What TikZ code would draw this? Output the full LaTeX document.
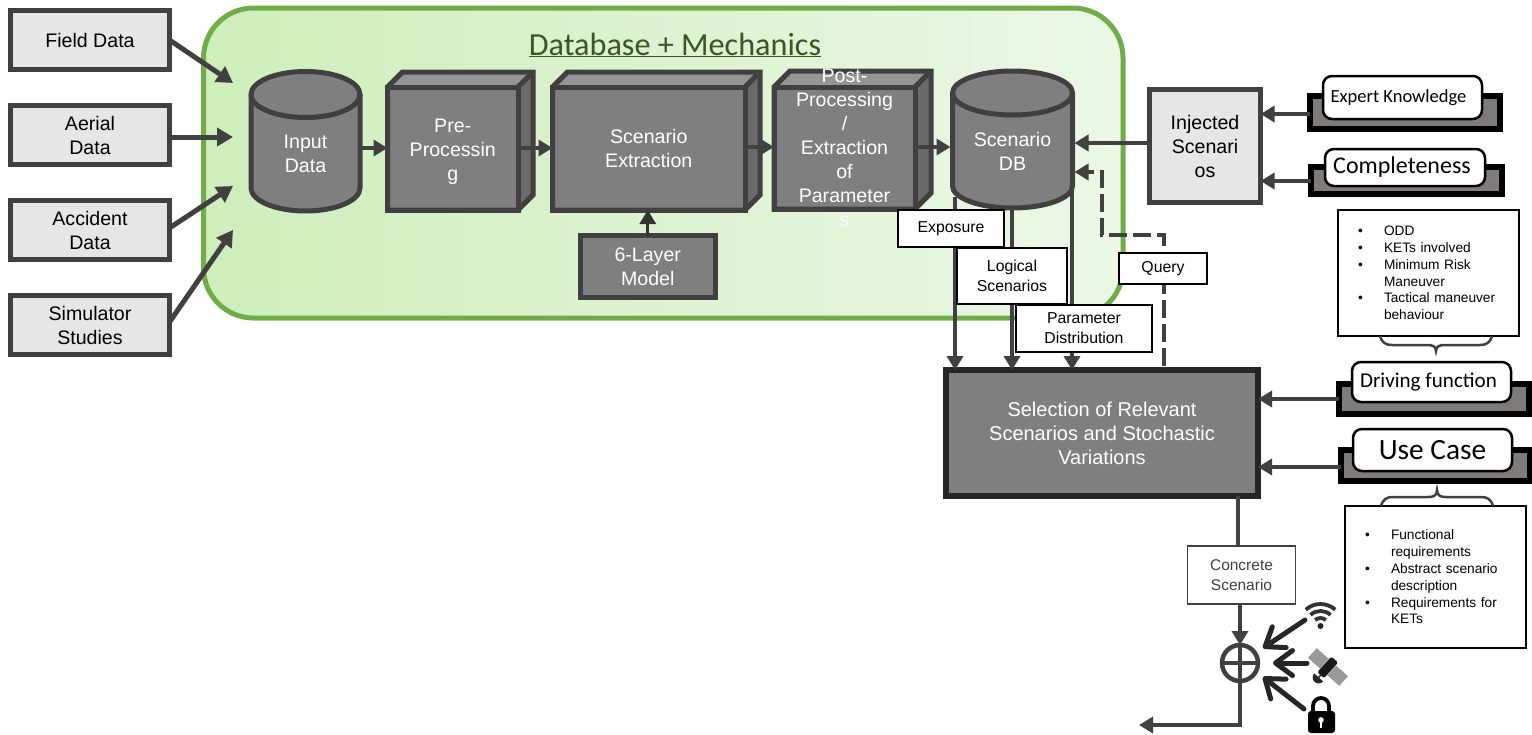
\documentclass[tikz,border=0pt]{standalone}
\usepackage{fontspec}
\setmainfont{Liberation Sans}
\newfontfamily\calfont{Carlito}
\usetikzlibrary{arrows.meta,calc}
\definecolor{dk}{HTML}{404040}
\definecolor{mid}{HTML}{7F7F7F}
\definecolor{lite}{HTML}{E6E6E6}
\definecolor{rib}{HTML}{7F7B7B}
\definecolor{topf}{HTML}{949494}
\definecolor{sidef}{HTML}{6A6A6A}
\newcommand{\fs}[2]{\fontsize{#1}{#2}\selectfont}
\newcommand{\itm}[1]{\makebox[26pt][l]{•}#1}
\newcommand{\cont}[1]{\makebox[26pt][l]{}#1}
% cube: name, left, top, right, bottom, depth, yshift, text
\newcommand{\cubebox}[8]{%
  \node[cubeface,minimum width=#4pt-#2pt,minimum height=#5pt-#3pt] (#1) at ({(#2+#4)/2},{(#3+#5)/2}) {};
  \fill[topf] (#1.north west) -- ++(#6pt,#6pt) -- ++(#4pt-#2pt,0pt) -- (#1.north east) -- cycle;
  \fill[sidef] (#1.north east) -- ++(#6pt,#6pt) -- ++(0pt,-#5pt+#3pt) -- (#1.south east) -- cycle;
  \draw[cubeedge] (#1.north west) -- ++(#6pt,#6pt) -- ++(#4pt-#2pt,0pt) -- ++(0pt,-#5pt+#3pt) -- (#1.south east) -- (#1.south west) -- cycle;
  \draw[cubeedge] (#1.north east) -- ++(#6pt,#6pt);
  \draw[cubeedge] (#1.north west) rectangle (#1.south east);
  \node[lighttext] at ($(#1.center)+(0,#7)$) {#8};
}
% cylinder: name, left, right, ytop(centre of top ellipse), ybot(centre of lower arc), ry, yshift, text
\newcommand{\cylbox}[8]{%
  \draw[line width=5pt,draw=dk,fill=mid] (#2,#4) arc[start angle=180,end angle=0,x radius=#3pt/2-#2pt/2,y radius=#6pt]
     -- (#3,#5) arc[start angle=0,end angle=-180,x radius=#3pt/2-#2pt/2,y radius=#6pt] -- cycle;
  \draw[line width=5pt,draw=dk] (#2,#4) arc[start angle=180,end angle=360,x radius=#3pt/2-#2pt/2,y radius=#6pt];
  \node[minimum width=#3pt-#2pt,minimum height=#5pt-#4pt+2*#6pt,inner sep=0pt,outer sep=0pt] (#1) at ({(#2+#3)/2},{(#4+#5)/2}) {};
  \node[lighttext] at ($(#1.center)+(0,#7)$) {#8};
}
% ribbon: name, l,t,r,b
\newcommand{\ribbonbox}[5]{%
  \node[ribbonshape,minimum width=#4pt-#2pt,minimum height=#5pt-#3pt] (#1) at ({(#2+#4)/2},{(#3+#5)/2}) {};
}
% bubble: name, l,t,r,b, size, text
\newcommand{\bubblebox}[7]{%
  \node[bubbleshape,minimum width=#4pt-#2pt,minimum height=#5pt-#3pt] (#1) at ({(#2+#4)/2},{(#3+#5)/2}) {\calfont\fs{#6}{#6}#7};
}
\tikzset{
  source/.style={draw=dk,line width=5pt,fill=lite,align=center,inner sep=0pt,outer sep=0pt,font=\fs{19.6}{24}},
  lighttext/.style={text=white,align=center,font=\fs{19.6}{24}},
  cubeface/.style={draw=dk,line width=5pt,fill=mid,inner sep=0pt,outer sep=0pt},
  cubeedge/.style={draw=dk,line width=5pt,line join=miter},
  label/.style={draw=black,line width=2.3pt,fill=white,align=center,inner sep=0pt,outer sep=0pt,font=\fs{15.8}{20}},
  ribbonshape/.style={draw=black,line width=5.5pt,fill=rib,inner sep=0pt,outer sep=0pt},
  bubbleshape/.style={draw=black,line width=2.5pt,fill=white,rounded corners=9pt,inner sep=0pt,outer sep=0pt,align=center},
  listbox/.style={draw=black,line width=1.6pt,fill=white,align=left,inner ysep=0pt,inner xsep=20pt,outer sep=0pt,font=\fs{13.7}{16.8}},
  flow/.style={draw=dk,line width=4.5pt,-{Triangle[length=14pt,width=16pt]}},
  bigflow/.style={draw=dk,line width=5pt,-{Triangle[length=16pt,width=18pt]}},
  plain/.style={draw=dk,line width=4.5pt},
  openarrow/.style={draw=black!85,line width=5pt,line cap=round,-{Straight Barb[length=17pt,width=25pt,line width=5pt,round]}},
  bracket/.style={draw=dk,line width=2.5pt},
}
\begin{document}
\begin{tikzpicture}[x=1pt,y=-1pt]
\useasboundingbox (0,0) rectangle (1532,734);
\fill[white] (0,0) rectangle (1532,734);

% database frame
\node[draw={rgb,255:red,112;green,173;blue,71},line width=5pt,left color={rgb,255:red,206;green,238;blue,187},right color={rgb,255:red,236;green,247;blue,231},
  rounded corners=50pt,minimum width=919.5pt,minimum height=310pt,inner sep=0pt,outer sep=0pt] (frame) at (663.25,163) {};
\node[text={rgb,255:red,56;green,87;blue,35}] (title) at (675,45) {\calfont\fs{32.2}{36}\underline{Database + Mechanics}};

% source boxes
\node[source,minimum width=159pt,minimum height=59pt] (field) at (90,40) {Field Data};
\node[source,minimum width=159pt,minimum height=59pt] (aerial) at (90,135) {Aerial\\Data};
\node[source,minimum width=159pt,minimum height=59pt] (accident) at (90,230) {Accident\\Data};
\node[source,minimum width=159pt,minimum height=59pt] (simulator) at (90,325) {Simulator\\Studies};

% blocks
\cylbox{input}{251}{360}{94.5}{188}{23}{13}{Input\\Data}
\cubebox{pre}{387.5}{87}{518}{210}{15}{3}{Pre-\\Processin\\g}
\cubebox{extract}{552.5}{87}{745}{210}{15}{0}{Scenario\\Extraction}
\cubebox{post}{774}{87}{915}{209}{16}{0}{Post-\\Processing\\/\\Extraction\\of\\Parameter\\s}
\cylbox{scen}{952.5}{1072.5}{93}{186}{22}{12}{Scenario\\DB}
\node[cubeface,minimum width=134.5pt,minimum height=62pt,text=white,align=center,font=\fs{19.6}{24}] (layer) at (647.75,266.5) {6-Layer\\Model};

\node[source,minimum width=111pt,minimum height=113pt] (inject) at (1205,146) {Injected\\Scenari\\os};

% source arrows
\coordinate (fieldEnd) at (233,83);
\coordinate (aerialEnd) at (233,137);
\coordinate (accEnd) at (233,186);
\coordinate (simEnd) at (233,230);
\coordinate (fieldOut) at (172,40);
\coordinate (aerialOut) at (172,137);
\coordinate (accOut) at (172,228);
\coordinate (simOut) at (172,322);
\draw[bigflow] (field.east |- fieldOut) -- (fieldEnd);
\draw[bigflow] (aerial.east |- aerialOut) -- (aerialEnd);
\draw[bigflow] (accident.east |- accOut) -- (accEnd);
\draw[bigflow] (simulator.east |- simOut) -- (simEnd);

% chain
\coordinate (ym) at (0,148);
\coordinate (ym2) at (0,147);
\draw[flow] (input.east |- ym) -- (pre.west |- ym);
\draw[flow] (pre.east |- ym) -- (extract.west |- ym);
\draw[flow] (extract.east |- ym2) -- (post.west |- ym2);
\draw[flow] (post.east |- ym2) -- ([xshift=-2pt]scen.west |- ym2);
\draw[draw=black!80,line width=3pt,-{Triangle[length=14pt,width=16pt]}] (layer.north) -- (extract.south -| layer.north);

% selection
\node[draw={rgb,255:red,38;green,38;blue,38},line width=5.5pt,fill=mid,minimum width=312pt,minimum height=126pt,inner sep=0pt,outer sep=0pt,text=white,align=center,font=\fs{20}{24}] (select) at (1102,433) {Selection of Relevant\\Scenarios and Stochastic\\Variations};

% from DB to selection
\coordinate (a1) at (955,197);
\coordinate (a2) at (1012,210);
\coordinate (a3) at (1072,190);
\draw[flow] (a1) -- (a1 |- select.north);
\draw[flow] (a2) -- (a2 |- select.north);
\draw[flow] (a3) -- (a3 |- select.north);

% injected to DB, query feedback
\draw[flow] (inject.west |- 0,143) -- ([xshift=2pt]scen.east |- 0,143);
\coordinate (q0) at (1164,366);
\coordinate (q1) at (1164,235);
\coordinate (q2) at (1102,235);
\coordinate (q3) at (1102,172);
\draw[draw=dk,line width=4.5pt,dash pattern=on 18pt off 6pt,line join=miter] (q0) -- (q1) -- (q2) -- (q3) -- ([xshift=14pt]scen.east |- q3);
\draw[draw=dk,line width=4.5pt,-{Triangle[length=14pt,width=16pt]}] ([xshift=16pt]scen.east |- q3) -- ([xshift=2pt]scen.east |- q3);

% labels
\node[label,minimum width=106pt,minimum height=37pt] (exposure) at (951,228.5) {Exposure};
\node[label,minimum width=110pt,minimum height=56pt] (logical) at (1012,276) {Logical\\Scenarios};
\node[label,minimum width=136pt,minimum height=47pt] (param) at (1084,328.5) {Parameter\\Distribution};
\node[label,minimum width=88pt,minimum height=31pt] (query) at (1163,268.5) {Query};

% ribbons
\ribbonbox{expertR}{1310}{96}{1500}{129}
\bubblebox{expert}{1323}{76}{1482}{119}{18.5}{\hspace*{-8pt}Expert Knowledge}
\ribbonbox{compR}{1311}{167}{1502}{194}
\bubblebox{comp}{1325}{149}{1485}{186}{24}{\hspace*{-6pt}Completeness}
\ribbonbox{driveR}{1339}{384}{1529}{414}
\bubblebox{drive}{1352}{362}{1511}{402}{21.1}{\hspace*{-6pt}Driving function}
\ribbonbox{useR}{1341}{450}{1530}{481}
\bubblebox{use}{1353}{429}{1512}{471}{29.4}{Use Case}

\draw[flow] (expertR.west |- 0,114) -- (inject.east |- 0,114);
\draw[flow] (compR.west |- 0,181) -- (inject.east |- 0,181);
\draw[flow] (driveR.west |- 0,399) -- (select.east |- 0,399);
\draw[flow] (useR.west |- 0,467) -- (select.east |- 0,467);

% lists
\node[listbox,text width=141pt,minimum height=126pt] (odd) at (1428.5,273) {\itm{ODD}\\\itm{KETs involved}\\\itm{Minimum Risk}\\\cont{Maneuver}\\\itm{Tactical maneuver}\\\cont{behaviour}};
\node[listbox,text width=141pt,minimum height=142pt] (req) at (1435.5,577) {\itm{Functional}\\\cont{requirements}\\\itm{Abstract scenario}\\\cont{description}\\\itm{Requirements for}\\\cont{KETs}};

% braces
\draw[bracket] (odd.south -| 1380,0) .. controls (1382,343) and (1386,345) .. (1392,345) -- (1427,345) .. controls (1432,345) and (1436,346) .. (1436,351) .. controls (1436,346) and (1440,345) .. (1445,345) -- (1480,345) .. controls (1486,345) and (1490,343) .. (1492,336);
\draw[bracket] (req.north -| 1381,0) .. controls (1383,499) and (1387,497) .. (1393,497) -- (1428,497) .. controls (1433,497) and (1437,496) .. (1437,490) .. controls (1437,496) and (1441,497) .. (1446,497) -- (1481,497) .. controls (1487,497) and (1491,499) .. (1493,506);

% concrete scenario and merge
\node[draw=dk,line width=1.6pt,fill=white,minimum width=108pt,minimum height=58pt,align=center,inner sep=0pt,outer sep=0pt,font=\fs{15.5}{20},text=dk] (concrete) at (1241.5,575) {Concrete\\Scenario};
\node[circle,draw=dk,line width=4.5pt,minimum size=36pt,inner sep=0pt,outer sep=0pt] (plus) at (1240,663) {};
\draw[dk,line width=4pt] (plus.north) -- (plus.south) (plus.west) -- (plus.east);
\draw[plain] (select.south -| 1238,0) -- (concrete.north -| 1238,0);
\draw[flow] (concrete.south -| plus.north) -- (plus.north);
\coordinate (outBend) at (1240,725);
\coordinate (outEnd) at (1139,725);
\draw[flow] (plus.south) -- (outBend) -- (outEnd);

% incoming open arrows
\coordinate (wifiS) at (1305,620);
\coordinate (wifiE) at (1263,648);
\coordinate (satS) at (1307,663);
\coordinate (satE) at (1273,663);
\coordinate (lockS) at (1304,709);
\coordinate (lockE) at (1263,677);
\draw[openarrow] (wifiS) -- (wifiE);
\draw[openarrow] (satS) -- (satE);
\draw[openarrow] (lockS) -- (lockE);

% wifi icon
\fill[black!85] (1320.5,626) circle (3pt);
\foreach \r in {8,15,22}{\draw[black!80,line width=3.8pt] (1320.5,626)++(48:\r pt) arc[start angle=48,end angle=132,radius=\r pt];}
% satellite icon
\begin{scope}[shift={(1328,667)},rotate=-42]
  \fill[black!40] (-21pt,-6.5pt) rectangle (-5pt,6.5pt);
  \fill[black!40] (5pt,-6.5pt) rectangle (21pt,6.5pt);
  \fill[black!90,rounded corners=1.5pt] (-4.5pt,-11pt) rectangle (4.5pt,10pt);
  \fill[black!85] (-6pt,-14pt) arc[start angle=180,end angle=360,radius=6pt] -- cycle;
  \draw[black!85,line width=1.5pt] (0pt,-14pt) -- (0pt,-10pt);
\end{scope}
% lock icon
\draw[black,line width=3.8pt] (1313,713) -- (1313,706) arc[start angle=180,end angle=0,radius=8pt] -- (1329,713);
\fill[black,rounded corners=3pt] (1308,711) rectangle (1335,733);
\fill[white] (1321,720) circle (2.8pt);
\fill[white] (1319.8,720) rectangle (1322.2,728);
\end{tikzpicture}
\end{document}
